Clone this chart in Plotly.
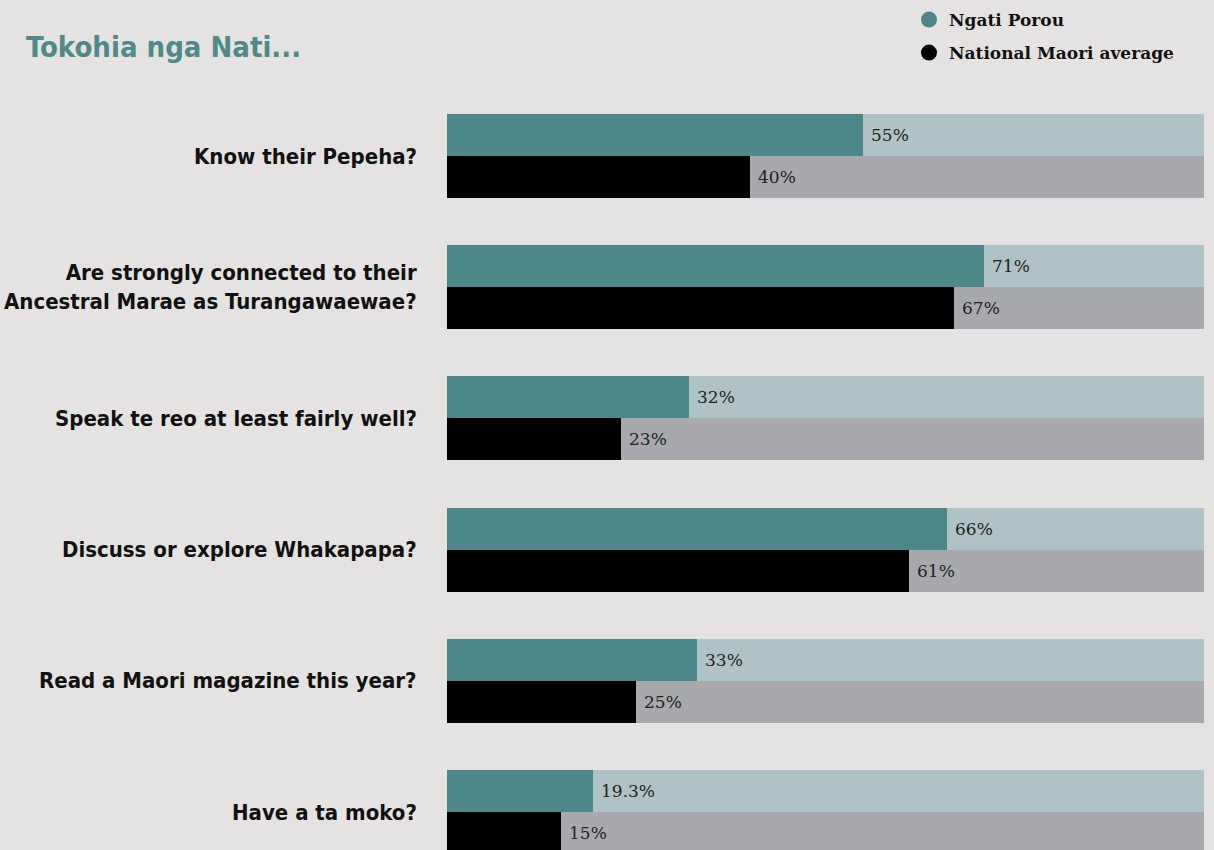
import plotly.graph_objects as go

# Survey questions and shares (%) answering yes
questions = [
    "Know their Pepeha?",
    "Are strongly connected to their<br>Ancestral Marae as Turangawaewae?",
    "Speak te reo at least fairly well?",
    "Discuss or explore Whakapapa?",
    "Read a Maori magazine this year?",
    "Have a ta moko?",
]
ngati_porou = [55, 71, 32, 66, 33, 19.3]
national_avg = [40, 67, 23, 61, 25, 15]
series_names = ["Ngati Porou", "National Maori average"]

BG = "#e4e3e1"
TEAL = "#4e8789"
TEAL_LIGHT = "#afc2c5"
BLACK = "#000000"
GREY = "#a8a9ac"

W, H = 1214, 850
LEFT, RIGHT = 447, 10
BAR_W = 0.32

idx = list(range(len(questions)))
y_top = [i - BAR_W / 2 for i in idx]
y_bot = [i + BAR_W / 2 for i in idx]
full = [100] * len(questions)

fig = go.Figure()

# 100% track behind each bar
fig.add_bar(x=full, y=y_top, orientation="h", width=BAR_W, marker_color=TEAL_LIGHT,
            marker_line_width=0, showlegend=False, hoverinfo="skip")
fig.add_bar(x=full, y=y_bot, orientation="h", width=BAR_W, marker_color=GREY,
            marker_line_width=0, showlegend=False, hoverinfo="skip")

# value bars
fig.add_bar(x=ngati_porou, y=y_top, orientation="h", width=BAR_W, marker_color=TEAL,
            marker_line_width=0, name=series_names[0], showlegend=False)
fig.add_bar(x=national_avg, y=y_bot, orientation="h", width=BAR_W, marker_color=BLACK,
            marker_line_width=0, name=series_names[1], showlegend=False)

# legend entries as round markers
fig.add_scatter(x=[None], y=[None], mode="markers", name=series_names[0],
                marker=dict(color=TEAL, size=16, symbol="circle"), legend="legend")
fig.add_scatter(x=[None], y=[None], mode="markers", name=series_names[1],
                marker=dict(color=BLACK, size=16, symbol="circle"), legend="legend2")

value_font = dict(family="DejaVu Serif, Liberation Serif, serif", size=17, color="#222222")
for yv, v in zip(y_top, ngati_porou):
    fig.add_annotation(x=v, y=yv, text=f"{v:g}%", showarrow=False, xanchor="left",
                       xshift=6, font=value_font)
for yv, v in zip(y_bot, national_avg):
    fig.add_annotation(x=v, y=yv, text=f"{v:g}%", showarrow=False, xanchor="left",
                       xshift=6, font=value_font)

CONDENSED = "DejaVu Sans Condensed, Liberation Sans Narrow, sans-serif"
label_font = dict(family=CONDENSED, size=22, color="#111111", weight="bold")
label_x = (419 - LEFT) / (W - LEFT - RIGHT)
for i, q in zip(idx, questions):
    fig.add_annotation(x=label_x, xref="paper", y=i, yref="y", text=q, showarrow=False,
                       xanchor="right", align="right", font=label_font)

fig.add_annotation(x=(24 - LEFT) / (W - LEFT - RIGHT), xref="paper", y=1 - 47 / H, yref="paper",
                   text="Tokohia nga Nati...", showarrow=False, xanchor="left", yanchor="middle",
                   font=dict(family=CONDENSED, size=29, color="#4e8a8a", weight="bold"))

legend_font = dict(family="DejaVu Serif, Liberation Serif, serif", size=17,
                   color="#111111", weight="bold")
leg_x = (909 - LEFT) / (W - LEFT - RIGHT)
fig.update_layout(
    width=W, height=H,
    margin=dict(l=LEFT, r=RIGHT, t=0, b=0),
    paper_bgcolor=BG, plot_bgcolor=BG,
    barmode="overlay", bargap=0,
    xaxis=dict(range=[0, 100], visible=False, fixedrange=True),
    yaxis=dict(range=[(H - 156) / 131.2, -156 / 131.2], visible=False, fixedrange=True),
    legend=dict(x=leg_x, y=1 - 2 / H, xanchor="left", yanchor="top", font=legend_font,
                bgcolor="rgba(0,0,0,0)"),
    legend2=dict(x=leg_x, y=1 - 35 / H, xanchor="left", yanchor="top", font=legend_font,
                 bgcolor="rgba(0,0,0,0)"),
)

fig.write_html("out.html")
